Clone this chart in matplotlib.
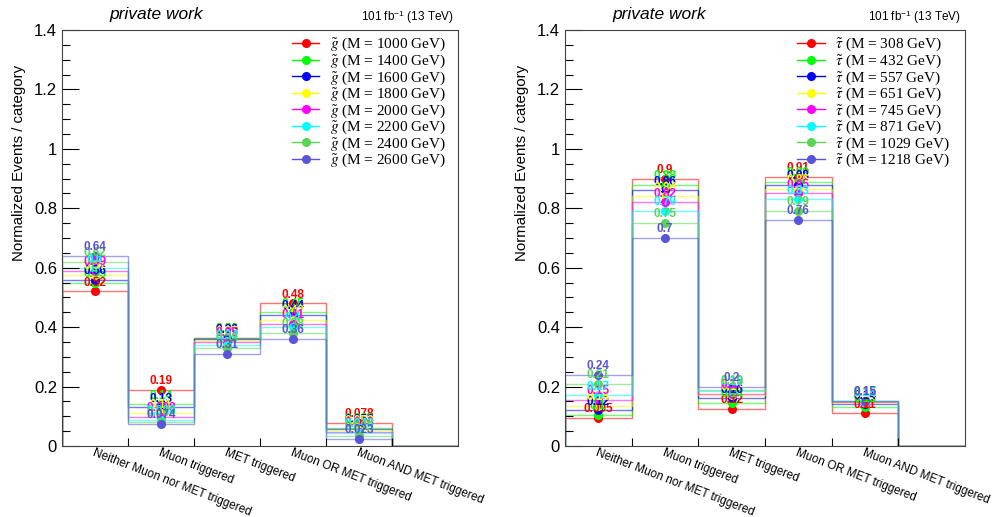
import matplotlib
matplotlib.use("Agg")
import matplotlib.pyplot as plt
from matplotlib.lines import Line2D

plt.rcParams["font.family"] = ["Liberation Sans", "DejaVu Sans"]
plt.rcParams["mathtext.fontset"] = "stix"

categories = ["Neither Muon nor MET triggered", "Muon triggered", "MET triggered",
              "Muon OR MET triggered", "Muon AND MET triggered"]
y_ticks = [0, 0.2, 0.4, 0.6, 0.8, 1.0, 1.2, 1.4]
y_tick_labels = ["0", "0.2", "0.4", "0.6", "0.8", "1", "1.2", "1.4"]

# ROOT colours 2..9
colors = ["#ff0000", "#00ff00", "#0000ff", "#ffff00", "#ff00ff", "#00ffff", "#59d454", "#5954d9"]

# gluino signal points
gluino_masses = [1000, 1400, 1600, 1800, 2000, 2200, 2400, 2600]
gluino_fracs = [
    [0.52, 0.19, 0.365, 0.48, 0.078],
    [0.55, 0.14, 0.365, 0.45, 0.062],
    [0.56, 0.13, 0.36, 0.44, 0.058],
    [0.575, 0.11, 0.355, 0.425, 0.053],
    [0.59, 0.098, 0.35, 0.41, 0.048],
    [0.60, 0.088, 0.34, 0.40, 0.043],
    [0.62, 0.082, 0.33, 0.38, 0.035],
    [0.64, 0.074, 0.31, 0.36, 0.023],
]

# stau signal points
stau_masses = [308, 432, 557, 651, 745, 871, 1029, 1218]
stau_fracs = [
    [0.095, 0.90, 0.125, 0.905, 0.11],
    [0.105, 0.88, 0.145, 0.89, 0.13],
    [0.12, 0.86, 0.16, 0.88, 0.14],
    [0.135, 0.84, 0.17, 0.865, 0.145],
    [0.155, 0.82, 0.175, 0.85, 0.148],
    [0.17, 0.79, 0.185, 0.83, 0.15],
    [0.21, 0.75, 0.19, 0.79, 0.152],
    [0.24, 0.70, 0.20, 0.76, 0.153],
]


def draw_panel(ax, masses, fracs, particle):
    n_bins = len(categories) + 1
    edges = list(range(n_bins + 1))
    centers = [i + 0.5 for i in range(len(categories))]
    handles = []
    for mass, vals, col in zip(masses, fracs, colors):
        ax.stairs(vals + [0], edges, baseline=0, color=col, alpha=0.55, lw=1)
        ax.plot(centers, vals, "o", color=col, ms=5.5, zorder=3)
        for x, v in zip(centers, vals):
            ax.annotate(f"{v:.2g}", (x, v), xytext=(0, 2), textcoords="offset points",
                        ha="center", va="bottom", fontsize=8.5, fontweight="bold",
                        color=col, zorder=4)
        handles.append(Line2D([0], [0], color=col, marker="o", ms=5.5, lw=1,
                              label=rf"$\tilde{{{particle}}}$ (M = {mass} GeV)"))

    ax.set_xlim(0, n_bins)
    ax.set_ylim(0, 1.4)
    ax.set_xticks(edges[1:-1])
    ax.set_xticklabels([])
    ax.tick_params(axis="x", direction="in", length=6, width=0.8)
    ax.set_yticks(y_ticks)
    ax.set_yticklabels(y_tick_labels, fontsize=12)
    ax.set_yticks([i * 0.05 for i in range(29)], minor=True)
    ax.tick_params(axis="y", which="major", direction="in", length=12, width=0.8)
    ax.tick_params(axis="y", which="minor", direction="in", length=6, width=0.8)
    for s in ax.spines.values():
        s.set_color("#444444")
    ax.set_ylabel("Normalized Events / category", fontsize=10.8)
    ax.yaxis.set_label_coords(-0.09, 0.68)

    for x, name in zip(centers, categories):
        ax.text(x, -0.002, name, transform=ax.get_xaxis_transform(), rotation=-21,
                rotation_mode="anchor", ha="left", va="top", fontsize=8.5)

    ax.text(0.12, 1.02, "private work", transform=ax.transAxes, fontsize=12.5,
            style="italic", va="bottom")
    ax.text(0.99, 1.01, r"101 fb$^{\mathregular{-1}}$ (13 TeV)", transform=ax.transAxes,
            fontsize=8.5, ha="right", va="bottom")

    ax.legend(handles=handles, loc="upper left", bbox_to_anchor=(0.565, 1.0),
              frameon=False, prop={"family": "Liberation Serif", "size": 11},
              handlelength=1.8, handletextpad=0.7, labelspacing=-0.05, borderaxespad=0)


fig = plt.figure(figsize=(9.98, 5.17), dpi=100)
ax1 = fig.add_axes([0.0621, 0.1373, 0.397, 0.8047])
ax2 = fig.add_axes([0.566, 0.1373, 0.401, 0.8047])

draw_panel(ax1, gluino_masses, gluino_fracs, "g")
draw_panel(ax2, stau_masses, stau_fracs, r"\tau")

fig.savefig("out.png", dpi=100)
